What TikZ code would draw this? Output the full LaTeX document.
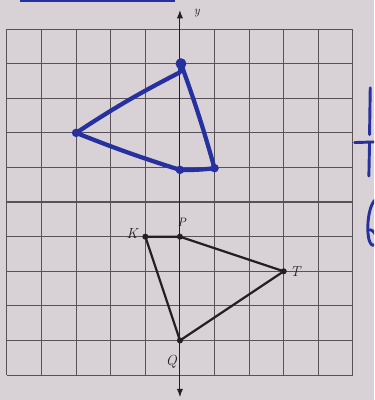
\documentclass[tikz,border=0pt]{standalone}
\usetikzlibrary{arrows.meta}
\definecolor{PaperGray}{RGB}{216,209,213}
\definecolor{GridGray}{RGB}{88,82,88}
\definecolor{InkBlue}{RGB}{38,48,158}
\definecolor{InkBlack}{RGB}{35,32,35}
\tikzset{
  gridline/.style={GridGray,line width=0.9pt},
  axis/.style={{Latex[length=2.4mm,width=1.8mm]}-{Latex[length=2.4mm,width=1.8mm]},InkBlack,line width=0.9pt},
  figline/.style={InkBlack,line width=1.8pt,line join=round},
  handline/.style={InkBlue,line width=3.5pt,line join=round,line cap=round},
  blackdot/.style={circle,fill=InkBlack,inner sep=0pt,minimum size=5pt},
  bluedot/.style={circle,fill=InkBlue,inner sep=0pt,minimum size=9pt},
  ptlabel/.style={font=\large\itshape,text=InkBlack,inner sep=1pt}
}

\begin{document}
\begin{tikzpicture}

\useasboundingbox (-5.20,-5.72) rectangle (5.61,5.84);
\clip (-5.20,-5.72) rectangle (5.61,5.84);
\fill[PaperGray] (-5.20,-5.72) rectangle (5.61,5.84);

% grid
\foreach \x in {-5,...,5}
  \draw[gridline] (\x,-5) -- (\x,5);
\foreach \y in {-5,...,5}
  \draw[gridline] (-5,\y) -- (5,\y);
\draw[GridGray,line width=1.1pt] (-5,0) -- (5,0);

% y-axis
\coordinate (ytop) at (0,5.55);
\coordinate (ybot) at (0,-5.64);
\draw[axis] (ybot) -- (ytop);
\node[ptlabel,font=\normalsize\itshape] (ylab) at (0.49,5.46) {y};

% black figure KPTQ
\coordinate (K) at (-1,-1);
\coordinate (P) at (0,-1);
\coordinate (T) at (3,-2);
\coordinate (Q) at (0,-4);
\draw[figline] (K) -- (P) -- (T) -- (Q) -- cycle;
\foreach \p in {K,P,T,Q}
  \node[blackdot] at (\p) {};
\node[ptlabel] (Klab) at (-1.38,-0.92) {K};
\node[ptlabel,font=\normalsize\itshape] (Plab) at (0.05,-0.58) {P};
\node[ptlabel] (Tlab) at (3.33,-2.02) {T};
\node[ptlabel] (Qlab) at (-0.25,-4.62) {Q};

% blue hand-drawn image
\coordinate (bK) at (1,0.98);
\coordinate (bP) at (0,0.93);
\coordinate (bT) at (-3,2);
\coordinate (bQ) at (0.03,4);
\draw[handline] (bQ) to[bend left=2] (bK)
  to[bend left=4] (bP) to[bend left=2] (bT)
  to[bend left=3] (0,3.75) -- (bQ);
\foreach \p in {bT,bP,bK}
  \node[bluedot,minimum size=7pt] at (\p) {};
\node[bluedot] at (bQ) {};

% cut-off marks at the edges
\draw[InkBlue,line width=2.4pt] (-4.62,5.82) -- (-0.14,5.82);
\draw[handline,line width=2.4pt] (5.50,3.30) -- (5.48,1.95);
\draw[handline,line width=2.4pt] (5.05,1.72) -- (5.70,1.74);
\draw[handline,line width=2.4pt] (5.48,1.72) -- (5.46,0.75);
\draw[handline,line width=2.4pt] (5.72,0.10) .. controls (5.40,0.05) and (5.33,-1.20) .. (5.58,-1.25)
  .. controls (5.72,-1.25) and (5.72,-0.85) .. (5.50,-0.80);

\end{tikzpicture}
\end{document}
